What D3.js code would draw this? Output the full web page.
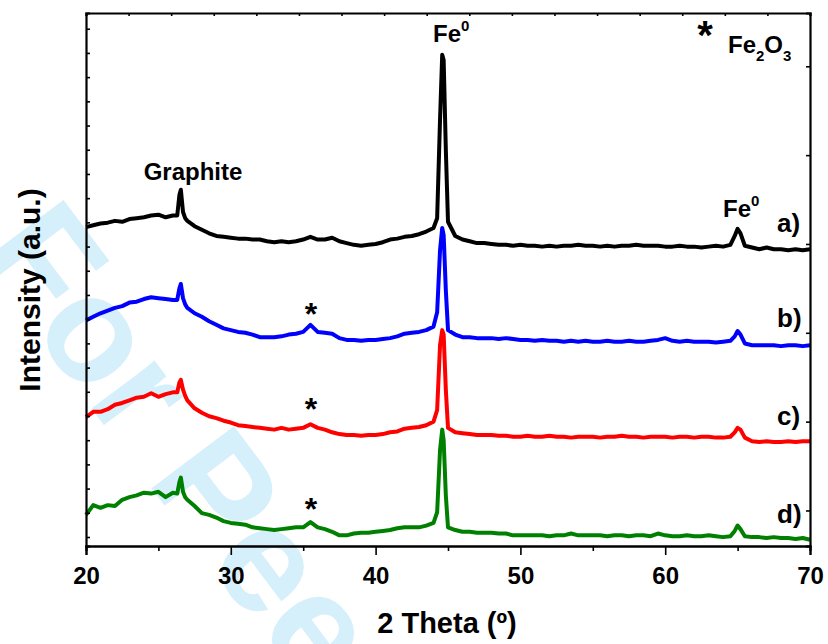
<!DOCTYPE html>
<html>
<head>
<meta charset="utf-8">
<script src="https://cdn.jsdelivr.net/npm/d3@7"></script>
<style>
  body { margin: 0; background: #fff; }
  svg { display: block; font-family: "Liberation Sans", Arial, sans-serif; font-weight: bold; }
</style>
</head>
<body>
<svg id="chart" width="828" height="644"></svg>
<script>
// ---- data: 2 theta grid (deg) and offset intensities (a.u.) ----
const theta = [
  20, 20.5, 21, 21.5, 22, 22.5, 23, 23.5, 24, 24.5, 25, 25.5, 26,
  26.3, 26.45, 26.55, 26.7, 26.85,
  27, 27.5, 28, 28.5, 29, 29.5, 30, 30.5, 31, 31.5, 32, 32.5, 33, 33.5, 34, 34.5, 35, 35.5,
  36, 36.5, 37, 37.5, 38, 38.5, 39, 39.5, 40, 40.5, 41, 41.5, 42, 42.5, 43, 43.5, 44,
  44.25, 44.45, 44.6, 44.7, 44.85,
  45, 45.5, 46, 46.5, 47, 47.5, 48, 48.5, 49, 49.5, 50, 50.5, 51, 51.5, 52, 52.5, 53, 53.5, 54, 54.5,
  55, 55.5, 56, 56.5, 57, 57.5, 58, 58.5, 59, 59.5, 60, 60.5, 61, 61.5, 62, 62.5, 63, 63.5, 64, 64.5,
  64.8, 65, 65.2,
  65.5, 66, 66.5, 67, 67.5, 68, 68.5, 69, 69.5, 70
];

const seriesA = [
  319, 321, 323, 324, 326, 325, 328, 329, 330, 332, 333, 330, 332,
  332, 355, 361, 336, 329,
  326, 320, 316, 312, 309, 308, 307, 306, 306, 305, 305, 303, 302, 303, 302, 303, 305, 308,
  305, 305, 307, 303, 301, 299, 298, 299, 300, 302, 305, 306, 308, 309, 311, 314, 318,
  329, 440, 513, 507, 406,
  325, 309, 305, 303, 301, 301, 300, 299, 299, 298, 299, 298, 298, 297, 298, 297, 298, 298, 299, 298,
  298, 297, 298, 297, 298, 298, 299, 298, 298, 298, 297, 297, 298, 297, 297, 296, 297, 298, 297, 299,
  309, 317, 312,
  298, 296, 294, 296, 294, 294, 293, 294, 293, 294
];

const seriesB = [
  214, 218, 222, 225, 228, 230, 234, 235, 238, 240, 239, 238, 237,
  237, 250, 255, 239, 232,
  228, 222, 218, 213, 209, 205, 203, 201, 200, 198, 195, 195, 195, 196, 198, 199, 201, 209,
  201, 200, 199, 194, 192, 192, 191, 192, 192, 193, 194, 196, 199, 200, 201, 203, 207,
  223, 293, 318, 310, 248,
  203, 198, 195, 195, 194, 194, 194, 193, 194, 193, 192, 192, 191, 192, 191, 191, 190, 191, 190, 191,
  190, 190, 191, 190, 190, 191, 190, 190, 191, 192, 194, 191, 190, 191, 190, 190, 190, 189, 190, 191,
  196, 202, 198,
  188, 186, 186, 186, 186, 185, 186, 186, 185, 186
];

const seriesC = [
  105, 111, 111, 114, 119, 121, 124, 127, 128, 132, 128, 131, 133,
  133, 144, 147, 136, 129,
  124, 115, 110, 106, 104, 101, 99, 96, 95, 94, 93, 92, 91, 93, 91, 92, 93, 97,
  93, 91, 88, 86, 85, 85, 84, 85, 85, 86, 88, 89, 92, 93, 94, 96, 100,
  113, 186, 203, 198, 136,
  93, 88, 87, 86, 85, 85, 85, 84, 84, 83, 83, 84, 83, 83, 84, 83, 83, 82, 83, 83,
  83, 82, 83, 83, 84, 83, 83, 82, 83, 83, 83, 82, 83, 83, 82, 83, 83, 82, 82, 83,
  88, 93, 91,
  82, 78, 77, 78, 77, 77, 78, 77, 78, 78
];

const seriesD = [
  -5, 6, 3, 6, 5, 12, 15, 17, 20, 19, 21, 15, 20,
  19, 32, 37, 21, 15,
  12, 5, -3, -5, -8, -12, -14, -15, -16, -19, -20, -21, -22, -21, -20, -19, -19, -13,
  -19, -21, -24, -28, -28, -26, -25, -25, -24, -23, -22, -20, -19, -19, -19, -17, -14,
  -2, 68, 91, 79, 17,
  -19, -22, -24, -24, -25, -25, -25, -26, -26, -28, -28, -28, -28, -28, -29, -28, -28, -26, -28, -28,
  -28, -28, -29, -28, -28, -29, -28, -28, -29, -26, -28, -29, -29, -28, -29, -29, -28, -29, -30, -29,
  -23, -17, -21,
  -29, -30, -30, -31, -30, -31, -31, -32, -31, -33
];

const seriesNames  = ["a)", "b)", "c)", "d)"];
const seriesColors = ["#000000", "#0000ff", "#ff0000", "#008000"];
const xTickLabels  = [20, 30, 40, 50, 60, 70];
const xMinorTicks  = [25, 35, 45, 55, 65];

// ---- layout ----
const svg = d3.select("#chart");
const m = { top: 13, right: 18, bottom: 98, left: 86 };
const W = 828, H = 644;
const w = W - m.left - m.right, h = H - m.top - m.bottom;

const x = d3.scaleLinear().domain([20, 70]).range([0, w]);
const y = d3.scaleLinear().domain([-40, 560]).range([h, 0]);
const yLeft = d3.scaleLinear().domain([-0.372, 21.65]).range([h, 0]); // minor marks on left spine
const xTop = d3.scaleLinear().domain([0, 17]).range([0, w]);           // marks on top spine

// watermark behind everything
svg.append("text")
  .attr("transform", "translate(-25,254) rotate(53)")
  .attr("font-size", 150).attr("fill", "#d5effb")
  .text("For Peer");

const g = svg.append("g").attr("transform", `translate(${m.left},${m.top})`);

// ---- curves ----
const allSeries = [seriesA, seriesB, seriesC, seriesD];
const line = d3.line().x(d => x(d[0])).y(d => y(d[1]));
allSeries.forEach((vals, i) => {
  if (vals.length !== theta.length) console.warn("length mismatch", i, vals.length, theta.length);
  g.append("path")
    .datum(theta.map((t, k) => [t, vals[k]]))
    .attr("fill", "none")
    .attr("stroke", seriesColors[i])
    .attr("stroke-width", 4)
    .attr("stroke-linejoin", "round")
    .attr("d", line);
});

// ---- axes ----
const bottom = g.append("g").attr("transform", `translate(0,${h})`)
  .call(d3.axisBottom(x).tickValues(xTickLabels).tickSize(9).tickFormat(d3.format("d")));
bottom.selectAll("text").attr("y", 38).attr("dy", null)
  .attr("font-size", 24).attr("font-family", "Liberation Sans, Arial").attr("font-weight", "bold").attr("fill", "#000");

g.append("g").attr("transform", `translate(0,${h})`)
  .call(d3.axisBottom(x).tickValues(xMinorTicks).tickSize(5).tickFormat(""));

g.append("g").call(d3.axisTop(xTop).ticks(17).tickSize(-3).tickFormat(""));
g.append("g").call(d3.axisLeft(yLeft).ticks(22).tickSize(-4).tickFormat(""));
g.append("g").attr("transform", `translate(${w},0)`)
  .call(d3.axisRight(y).tickValues([0, 100, 200, 300, 400, 500]).tickSize(-4).tickFormat(""));

g.selectAll(".domain").attr("stroke-width", 2.2);
g.selectAll(".tick line").attr("stroke-width", 1.6);

// ---- titles ----
svg.append("text")
  .attr("x", 447).attr("y", 633).attr("text-anchor", "middle")
  .attr("font-size", 29).text("2 Theta (º)");

svg.append("text")
  .attr("transform", "translate(40,290) rotate(-90)")
  .attr("text-anchor", "middle").attr("font-size", 30)
  .text("Intensity (a.u.)");

// ---- annotations ----
svg.append("text").attr("x", 193).attr("y", 180).attr("text-anchor", "middle")
  .attr("font-size", 24).text("Graphite");

function feZero(px, py) {
  const t = svg.append("text").attr("x", px).attr("y", py).attr("font-size", 24);
  t.append("tspan").text("Fe");
  t.append("tspan").attr("font-size", 15).attr("dy", -11).text("0");
}
feZero(433, 42);
feZero(723, 217);

svg.append("text").attr("x", 705).attr("y", 49).attr("text-anchor", "middle")
  .attr("font-size", 40).text("*");

const fe2o3 = svg.append("text").attr("x", 728).attr("y", 53).attr("font-size", 24);
fe2o3.append("tspan").text("Fe");
fe2o3.append("tspan").attr("font-size", 15).attr("dy", 8).text("2");
fe2o3.append("tspan").attr("dy", -8).text("O");
fe2o3.append("tspan").attr("font-size", 15).attr("dy", 8).text("3");

[325, 420, 520].forEach(py => {
  svg.append("text").attr("x", 311).attr("y", py).attr("text-anchor", "middle")
    .attr("font-size", 32).text("*");
});

const labelY = [232, 327, 425, 523];
seriesNames.forEach((s, i) => {
  svg.append("text").attr("x", 777).attr("y", labelY[i]).attr("font-size", 26).text(s);
});
</script>
</body>
</html>
